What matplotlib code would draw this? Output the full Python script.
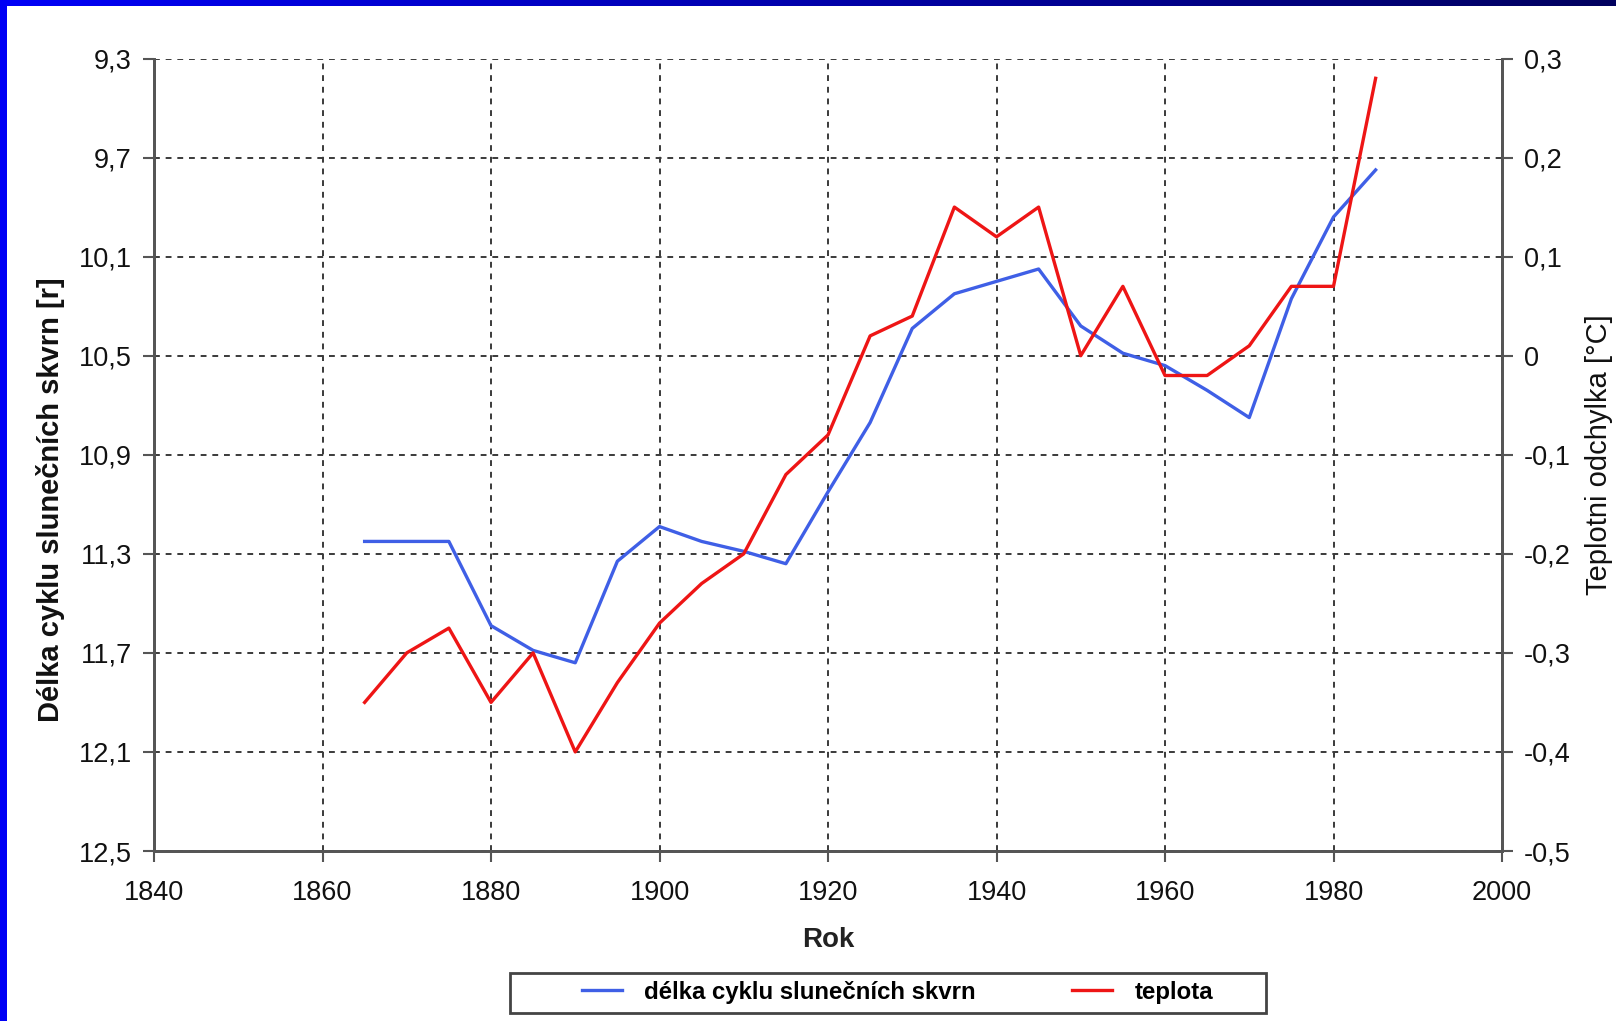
import numpy as np
import matplotlib
matplotlib.use("Agg")
import matplotlib.pyplot as plt
from matplotlib.patches import Rectangle

years = [1865, 1870, 1875, 1880, 1885, 1890, 1895, 1900, 1905, 1910, 1915, 1920,
         1925, 1930, 1935, 1940, 1945, 1950, 1955, 1960, 1965, 1970, 1975, 1980, 1985]
cycle_length = [11.25, 11.25, 11.25, 11.59, 11.69, 11.74, 11.33, 11.19, 11.25, 11.29,
                11.34, 11.05, 10.77, 10.39, 10.25, 10.20, 10.15, 10.38, 10.49, 10.54,
                10.64, 10.75, 10.27, 9.94, 9.75]
temperature = [-0.35, -0.30, -0.275, -0.35, -0.30, -0.40, -0.33, -0.27, -0.23, -0.20,
               -0.12, -0.08, 0.02, 0.04, 0.15, 0.12, 0.15, 0.00, 0.07, -0.02,
               -0.02, 0.01, 0.07, 0.07, 0.28]

x_ticks = [1840, 1860, 1880, 1900, 1920, 1940, 1960, 1980, 2000]
left_ticks = [9.3, 9.7, 10.1, 10.5, 10.9, 11.3, 11.7, 12.1, 12.5]
left_labels = ["9,3", "9,7", "10,1", "10,5", "10,9", "11,3", "11,7", "12,1", "12,5"]
right_ticks = [0.3, 0.2, 0.1, 0.0, -0.1, -0.2, -0.3, -0.4, -0.5]
right_labels = ["0,3", "0,2", "0,1", "0", "-0,1", "-0,2", "-0,3", "-0,4", "-0,5"]

plt.rcParams['font.family'] = ['Liberation Sans', 'DejaVu Sans']

W, H = 1616, 1021
fig = plt.figure(figsize=(W / 100, H / 100), dpi=100)
fig.patch.set_facecolor('white')

AX_L, AX_R, AX_T, AX_B = 154, 1502, 58.5, 851
ax = fig.add_axes([AX_L / W, 1 - AX_B / H, (AX_R - AX_L) / W, (AX_B - AX_T) / H])
ax2 = ax.twinx()

spine_c = '#555555'
grid_c = '#3a3a3a'

blue = '#3f5fe6'
red = '#ee1515'

ax.plot(years, cycle_length, color=blue, lw=2.4, zorder=3)
ax2.plot(years, temperature, color=red, lw=2.4, zorder=3)

ax.set_xlim(1840, 2000)
ax.set_ylim(12.5, 9.3)
ax2.set_ylim(-0.5, 0.3)

ax.set_xticks(x_ticks)
ax.set_xticklabels([str(v) for v in x_ticks])
ax.set_yticks(left_ticks)
ax.set_yticklabels(left_labels)
ax2.set_yticks(right_ticks)
ax2.set_yticklabels(right_labels)

ax.grid(True, color=grid_c, linestyle=(0, (3, 3)), linewidth=1.4)
ax.set_axisbelow(True)

for a in (ax, ax2):
    a.spines['top'].set_visible(False)
    for s in ('left', 'right', 'bottom'):
        a.spines[s].set_color(spine_c)
        a.spines[s].set_linewidth(2.0)
    a.tick_params(direction='out', length=8, width=1.5, color=spine_c,
                  labelsize=19.5, labelcolor='#111111')
ax.tick_params(axis='y', pad=8)
ax.tick_params(axis='x', pad=13)
ax2.tick_params(axis='y', pad=8)

ax.set_xlabel("Rok", fontsize=20, fontweight='bold', color='#222222', labelpad=15)
ax.set_ylabel("Délka cyklu slunečních skvrn [r]", fontsize=21, fontweight='bold',
              color='#111111')
ax2.set_ylabel("Teplotni odchylka [°C]", fontsize=21, color='#111111', rotation=90)
ax.yaxis.set_label_coords((65 - AX_L) / (AX_R - AX_L), 1 - (500 - AX_T) / (AX_B - AX_T))
ax2.yaxis.set_label_coords((1585 - AX_L) / (AX_R - AX_L), 0.5)

# Legend (contents) and its box
l1, = ax.plot([], [], color=blue, lw=2.4)
l2, = ax.plot([], [], color=red, lw=2.4)
leg = fig.legend([l1, l2], ["délka cyklu slunečních skvrn", "teplota"], ncol=2,
                 loc='center left', bbox_to_anchor=(582 / W, 1 - 992 / H),
                 frameon=False, prop={'weight': 'bold', 'size': 17.3},
                 handlelength=1.65, columnspacing=4.0, handletextpad=0.95,
                 borderpad=0, borderaxespad=0)
fig.patches.append(Rectangle((510 / W, 1 - 1013 / H), (1266 - 510) / W, 40 / H,
                             transform=fig.transFigure, facecolor='none',
                             edgecolor='#444444', linewidth=2.0, zorder=5))

# Blue frame decoration
fig.patches.append(Rectangle((0, 0), 7 / W, 1, transform=fig.transFigure,
                             facecolor='#0000f5', edgecolor='none', zorder=10))
top_ax = fig.add_axes([0, 1 - 6 / H, 1, 6 / H])
grad = np.linspace(0, 1, 256)
cols = np.zeros((1, 256, 3))
cols[0, :, 2] = 0.97 - 0.6 * grad
top_ax.imshow(cols, aspect='auto', extent=[0, 1, 0, 1])
top_ax.axis('off')

fig.savefig("out.png", dpi=100)
